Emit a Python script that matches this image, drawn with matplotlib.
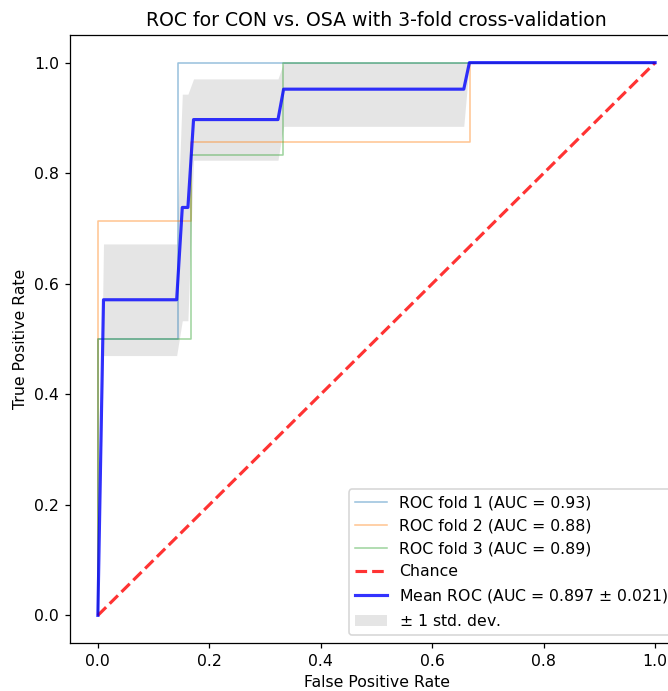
import numpy as np
import matplotlib
matplotlib.use("Agg")
import matplotlib.pyplot as plt

# per-fold ROC step curves
fold_fpr = [
    [0.0, 0.0, 0.143, 0.143, 1.0],
    [0.0, 0.0, 0.167, 0.167, 0.667, 0.667, 1.0],
    [0.0, 0.0, 0.167, 0.167, 0.333, 0.333, 1.0],
]
fold_tpr = [
    [0.0, 0.5, 0.5, 1.0, 1.0],
    [0.0, 0.714, 0.714, 0.857, 0.857, 1.0, 1.0],
    [0.0, 0.5, 0.5, 0.833, 0.833, 1.0, 1.0],
]
fold_auc = [0.93, 0.88, 0.89]

# mean ROC and its std band
mean_fpr = [0.0, 0.0101, 0.1414, 0.1515, 0.1616, 0.1717, 0.3232, 0.3333, 0.6566, 0.6667, 1.0]
mean_tpr = [0.0, 0.571, 0.571, 0.738, 0.738, 0.897, 0.897, 0.952, 0.952, 1.0, 1.0]
std_tpr = [0.0, 0.101, 0.101, 0.205, 0.205, 0.0736, 0.0736, 0.0673, 0.0673, 0.0, 0.0]
mean_auc = 0.897
std_auc = 0.021

DPI = 113
fig = plt.figure(figsize=(668 / DPI, 691 / DPI), dpi=DPI)
# axes runs past the right edge of the image, like the reference
ax = fig.add_axes([70 / 668, 48 / 691, 613 / 668, 608 / 691])

for i in range(3):
    ax.plot(fold_fpr[i], fold_tpr[i], lw=1, alpha=0.45,
            label='ROC fold %d (AUC = %0.2f)' % (i + 1, fold_auc[i]))

ax.plot([0, 1], [0, 1], linestyle='--', lw=2, color='r', label='Chance', alpha=.8)

ax.plot(mean_fpr, mean_tpr, color='b',
        label=r'Mean ROC (AUC = %0.3f $\pm$ %0.3f)' % (mean_auc, std_auc),
        lw=2, alpha=.8)

mean_tpr = np.array(mean_tpr)
std_tpr = np.array(std_tpr)
tprs_upper = np.minimum(mean_tpr + std_tpr, 1)
tprs_lower = np.maximum(mean_tpr - std_tpr, 0)
ax.fill_between(mean_fpr, tprs_lower, tprs_upper, color='grey', alpha=.2,
                lw=0, label=r'$\pm$ 1 std. dev.')

ax.set_xlim([-0.05, 1.05])
ax.set_ylim([-0.05, 1.05])
ax.set_xlabel('False Positive Rate')
ax.set_ylabel('True Positive Rate')
ax.set_title('ROC for CON vs. OSA with 3-fold cross-validation')
ax.legend(loc="lower right")

fig.savefig("out.png", dpi=DPI)
